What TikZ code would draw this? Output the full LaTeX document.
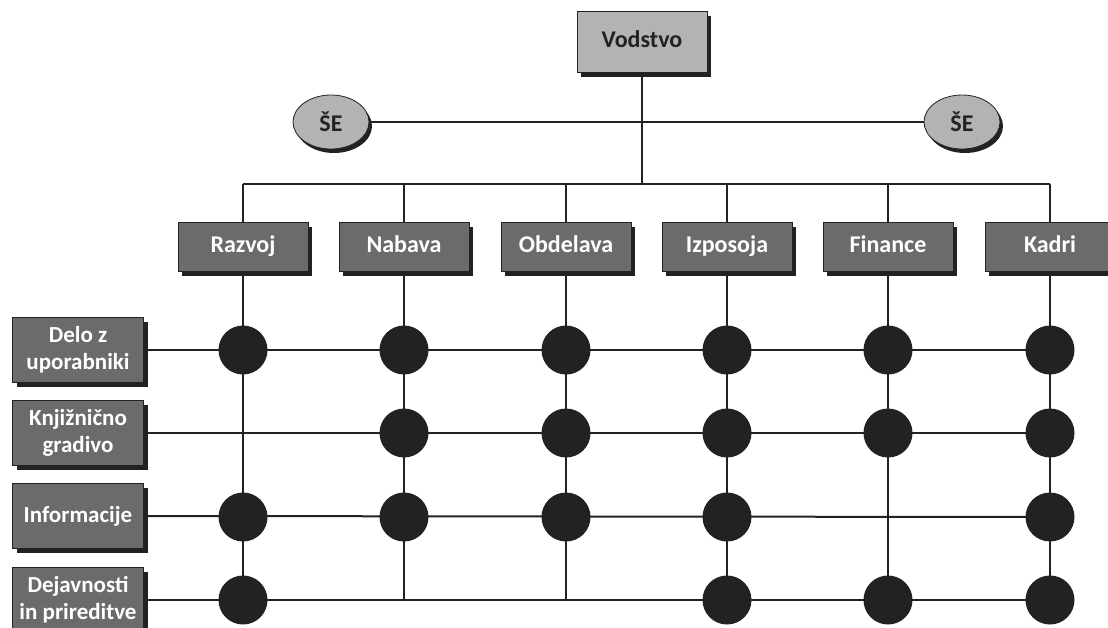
\documentclass[tikz,border=0pt]{standalone}
\usepackage{fontspec}
\setmainfont{Carlito}
\usetikzlibrary{shapes.geometric,shadows}
\definecolor{lightbox}{HTML}{B3B3B3}
\definecolor{darkbox}{HTML}{6B6B6B}
\definecolor{ink}{HTML}{222222}
\begin{document}
\begin{tikzpicture}[x=1pt,y=-1pt,
  conn/.style={draw=ink,line width=2pt},
  topbox/.style={draw=ink,line width=0.8pt,fill=lightbox,minimum width=130pt,minimum height=61pt,
    font=\fontsize{24}{26}\selectfont\bfseries,text=ink,text height=16pt,text depth=5pt,
    drop shadow={shadow xshift=4pt,shadow yshift=-4pt,fill=ink,opacity=1}},
  sebox/.style={ellipse,draw=ink,line width=0.8pt,fill=lightbox,minimum width=76pt,minimum height=54pt,inner sep=0pt,
    font=\fontsize{24}{26}\selectfont\bfseries,text=ink,
    drop shadow={shadow xshift=3pt,shadow yshift=-4pt,fill=ink,opacity=1}},
  deptbox/.style={draw=ink,line width=0.8pt,fill=darkbox,minimum width=130pt,minimum height=49pt,
    font=\fontsize{24}{26}\selectfont\bfseries,text=white,text height=16pt,text depth=5pt,
    drop shadow={shadow xshift=4pt,shadow yshift=-4pt,fill=ink,opacity=1}},
  rowbox/.style={draw=ink,line width=0.8pt,fill=darkbox,minimum width=131pt,minimum height=65pt,inner sep=1pt,
    align=center,font=\fontsize{23}{27}\selectfont\bfseries,text=white,
    drop shadow={shadow xshift=4pt,shadow yshift=-4pt,fill=ink,opacity=1}},
  dotnode/.style={circle,fill=ink,minimum size=49pt,inner sep=0pt}]
\useasboundingbox (0,0) rectangle (1108,627);
\begin{scope}
\clip (0,0) rectangle (1108,627);
% top
\node[topbox] (vod) at (642,42) {Vodstvo};
\node[sebox] (seL) at (331,122) {ŠE};
\node[sebox] (seR) at (962,122) {ŠE};
\coordinate (hub) at (642,184);
% departments
\foreach \n/\x/\t in {d1/243/Razvoj,d2/404/Nabava,d3/566/Obdelava,d4/727/Izposoja,d5/888/Finance,d6/1050/Kadri}{
  \node[deptbox] (\n) at (\x,247) {\t};
  \coordinate (\n-top) at (\x,184);
  \coordinate (\n-end) at (\x,600);
}
% rows
\node[rowbox] (r1) at (78,350) {Delo z\\uporabniki};
\node[rowbox] (r2) at (78,433) {Knjižnično\\gradivo};
\node[rowbox] (r3) at (78,516) {Informacije};
\node[rowbox] (r4) at (78,600) {Dejavnosti\\in prireditve};
\foreach \r/\y in {r1/350,r2/433,r3/517,r4/600}{
  \coordinate (\r-end) at (1050,\y);
}
\end{scope}
% connectors
\draw[conn] (vod.south) -- (hub);
\draw[conn] (seL.east) -- (seR.west);
\draw[conn] (d1-top) -- (d6-top);
\foreach \n in {d1,d2,d3,d4,d5,d6}{
  \draw[conn] (\n-top) -- (\n.north);
  \draw[conn] (\n.south) -- (\n-end);
}
\foreach \r in {r1,r2,r3,r4}{
  \draw[conn] (\r.east) -- (\r-end);
}
% dots
\foreach \c/\x in {1/243,2/404,3/566,4/727,5/888,6/1050}{
  \node[dotnode] (a\c) at (\x,350) {};
}
\foreach \c/\x in {2/404,3/566,4/727,5/888,6/1050}{
  \node[dotnode] (b\c) at (\x,433) {};
}
\foreach \c/\x in {1/243,2/404,3/566,4/727,6/1050}{
  \node[dotnode] (c\c) at (\x,517) {};
}
\foreach \c/\x in {1/243,4/727,5/888,6/1050}{
  \node[dotnode] (e\c) at (\x,600) {};
}
\end{tikzpicture}
\end{document}
